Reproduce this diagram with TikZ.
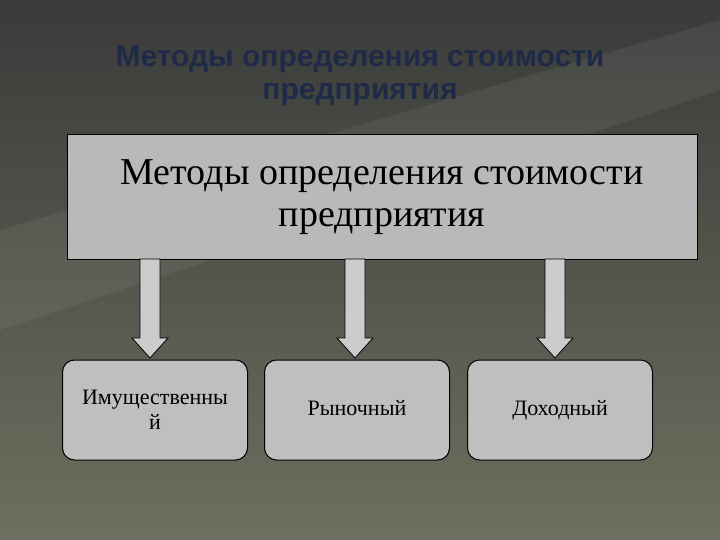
\documentclass[tikz,border=0pt]{standalone}
\usepackage{fontspec}
\setmainfont{Liberation Serif}
\newfontfamily\titlefont{Liberation Sans}
\definecolor{bgA}{HTML}{3A3B3A}
\definecolor{bgB}{HTML}{6C705E}
\definecolor{titlec}{HTML}{1E2A48}
\begin{document}
\begin{tikzpicture}[x=1pt,y=-1pt,
  bigbox/.style={draw=black,line width=1pt,fill=gray!55,minimum width=630pt,minimum height=124pt,inner sep=0pt,align=center,font=\fontsize{38}{42}\selectfont},
  smallbox/.style={draw=black,line width=1pt,fill=gray!50,rounded corners=12pt,minimum width=185pt,minimum height=100pt,inner sep=0pt,align=center,font=\fontsize{22}{25}\selectfont},
  blockarrow/.style={draw=black,line width=0.8pt,fill=gray!40}]
\useasboundingbox (0,0) rectangle (720,540);
\shade[shading angle=135,top color=bgA,bottom color=bgB] (0,0) rectangle (720,540);
\fill[white,opacity=0.06] (0,230) -- (720,20) -- (720,90) -- (0,330) -- cycle;
\node[font=\titlefont\bfseries\fontsize{30}{33}\selectfont,text=titlec,align=center] (title) at (360,76) {Методы определения стоимости\\предприятия};
\node[bigbox] (main) at (382,197) {Методы определения стоимости\\предприятия};
\node[smallbox] (a) at (155,410) {Имущественны\\й};
\node[smallbox] (b) at (357,410) {\strut Рыночный};
\node[smallbox] (c) at (560,410) {\strut Доходный};
\foreach \n/\x in {a/150,b/355,c/555}{
  \draw[blockarrow] (\x-10,259) -- (\x+10,259) -- (\x+10,338) -- (\x+18,338) -- (\x,358) -- (\x-18,338) -- (\x-10,338) -- cycle;
}
\end{tikzpicture}
\end{document}
